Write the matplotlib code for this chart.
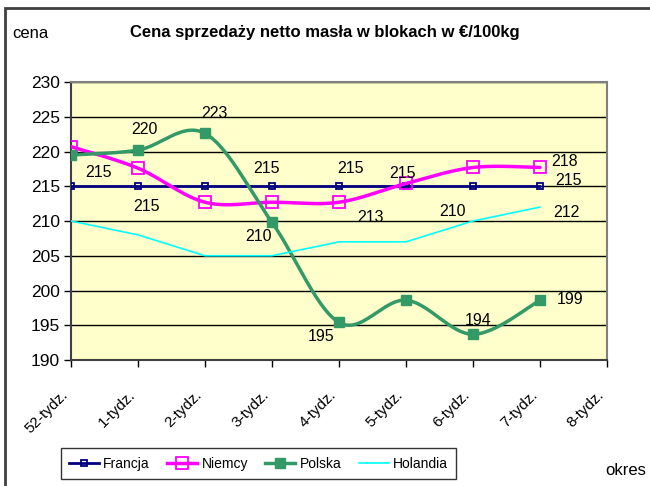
import numpy as np
import matplotlib
matplotlib.use("Agg")
import matplotlib.pyplot as plt
import matplotlib.transforms as mtransforms
from matplotlib.lines import Line2D
from matplotlib.patches import Rectangle

plt.rcParams['font.family'] = ['Liberation Sans', 'DejaVu Sans']

# ---- data ----
categories = ["52-tydz.", "1-tydz.", "2-tydz.", "3-tydz.", "4-tydz.",
              "5-tydz.", "6-tydz.", "7-tydz.", "8-tydz."]
francja = [215, 215, 215, 215, 215, 215, 215, 215]
niemcy = [220.7, 217.6, 212.7, 212.7, 212.7, 215.4, 217.7, 217.7]
polska = [219.5, 220.2, 222.6, 209.8, 195.4, 198.6, 193.7, 198.6]
holandia = [210, 208, 205, 205, 207, 207, 210, 212]
series_names = ["Francja", "Niemcy", "Polska", "Holandia"]
yticks = [190, 195, 200, 205, 210, 215, 220, 225, 230]

title = "Cena sprzedaży netto masła w blokach w €/100kg"

# label placement: (series, point index, dx px, dy px (down positive))
label_places = [
    ("Francja", 0, 28, -14), ("Polska", 1, 6, -21), ("Polska", 2, 9, -20),
    ("Francja", 1, 8, 20), ("Francja", 3, -6, -18), ("Polska", 3, -14, 14),
    ("Francja", 4, 12, -18), ("Niemcy", 4, 31, 15), ("Niemcy", 5, -4, -10),
    ("Polska", 4, -18, 14), ("Holandia", 6, -20, -10), ("Polska", 6, 5, -14),
    ("Niemcy", 7, 25, -6), ("Francja", 7, 28, -6), ("Holandia", 7, 26, 5),
    ("Polska", 7, 30, -1),
]


def excel_smooth(xs, ys, n=30):
    pts = np.column_stack([xs, ys]).astype(float)
    out = [pts[0]]
    m = len(pts)
    for i in range(m - 1):
        p0 = pts[i - 1] if i > 0 else pts[i]
        p1 = pts[i]
        p2 = pts[i + 1]
        p3 = pts[i + 2] if i + 2 < m else pts[i + 1]
        c1 = p1 + (p2 - p0) / 6.0
        c2 = p2 - (p3 - p1) / 6.0
        t = np.linspace(0, 1, n)[1:, None]
        seg = ((1 - t) ** 3) * p1 + 3 * ((1 - t) ** 2) * t * c1 + 3 * (1 - t) * t ** 2 * c2 + t ** 3 * p2
        out.extend(seg)
    out = np.array(out)
    return out[:, 0], out[:, 1]


fig = plt.figure(figsize=(6.5, 4.86), dpi=100)
ax = fig.add_axes([71 / 650, 1 - 360 / 486, (607 - 71) / 650, (360 - 82) / 486])
ax.set_facecolor("#FFFFCC")

x = np.arange(len(francja))
styles = {
    "Francja": dict(color="#000080", lw=2.0, marker="s", ms=4.5, mfc="none", mew=1.3, smooth=True),
    "Niemcy": dict(color="#FF00FF", lw=2.5, marker="s", ms=8, mfc="none", mew=1.3, smooth=True),
    "Polska": dict(color="#339966", lw=2.5, marker="s", ms=7.5, mfc="#339966", mew=1.0, smooth=True),
    "Holandia": dict(color="#00FFFF", lw=1.2, marker=None, ms=0, mfc="none", mew=0, smooth=False),
}
data = {"Francja": francja, "Niemcy": niemcy, "Polska": polska, "Holandia": holandia}

handles = []
for z, name in enumerate(series_names):
    st = styles[name]
    ys = data[name]
    if st["smooth"]:
        sx, sy = excel_smooth(x, ys)
    else:
        sx, sy = x, ys
    ax.plot(sx, sy, color=st["color"], lw=st["lw"], zorder=3 + z, solid_capstyle="round")
    if st["marker"]:
        ax.plot(x, ys, ls="none", marker=st["marker"], ms=st["ms"], mfc=st["mfc"],
                mec=st["color"], mew=st["mew"], zorder=3 + z)
    handles.append(Line2D([0], [0], color=st["color"], lw=st["lw"], marker=st["marker"],
                          ms=st["ms"], mfc=st["mfc"], mec=st["color"], mew=st["mew"]))

for name, i, dx, dy in label_places:
    v = data[name][i]
    ax.annotate(f"{round(v):d}", xy=(i, v), xytext=(dx, -dy), textcoords="offset pixels",
                ha="center", va="center", fontsize=11.5, color="black", zorder=10)

ax.set_xlim(0, len(categories) - 1)
ax.set_ylim(190, 230)
ax.set_yticks(yticks)
ax.set_yticklabels([str(t) for t in yticks], fontsize=12.5)
ax.set_xticks(np.arange(len(categories)))
ax.set_xticklabels(categories, rotation=45, ha="right", va="center", fontsize=11,
                   rotation_mode="anchor")
ax.tick_params(axis="x", direction="out", length=5, width=1, pad=0, colors="#000000")
ax.tick_params(axis="y", direction="out", length=5, width=1, pad=3)
offset = mtransforms.ScaledTranslation(-5 / 100, -26 / 100, fig.dpi_scale_trans)
for lbl in ax.get_xticklabels():
    lbl.set_transform(lbl.get_transform() + offset)
ax.grid(axis="y", color="black", lw=1)
ax.set_axisbelow(True)
for s in ["top", "right"]:
    ax.spines[s].set_color("#808080")
    ax.spines[s].set_linewidth(1.5)
for s in ["left", "bottom"]:
    ax.spines[s].set_color("#404040")
    ax.spines[s].set_linewidth(1.5)

fig.text(130 / 650, 1 - 33 / 486, title, fontsize=12, fontweight="bold", ha="left", va="center")
fig.text(12 / 650, 1 - 33 / 486, "cena", fontsize=12, ha="left", va="center")
fig.text(605 / 650, 1 - 470 / 486, "okres", fontsize=12, ha="left", va="center")

leg = fig.legend(handles, series_names, ncol=4, loc="center",
                 bbox_to_anchor=(258.5 / 650, 1 - 463.5 / 486), frameon=True, fancybox=False,
                 edgecolor="black", fontsize=10, handlelength=2.16, columnspacing=1.25,
                 handletextpad=0.3, borderpad=0.6, borderaxespad=0)
leg.get_frame().set_linewidth(1.0)

# outer chart border
fig.patches.append(Rectangle((5 / 650, -0.05), 1.1, 1 - 8 / 486 + 0.05, transform=fig.transFigure,
                             fill=False, edgecolor="#404040", lw=2))

fig.savefig("out.png", dpi=100)
